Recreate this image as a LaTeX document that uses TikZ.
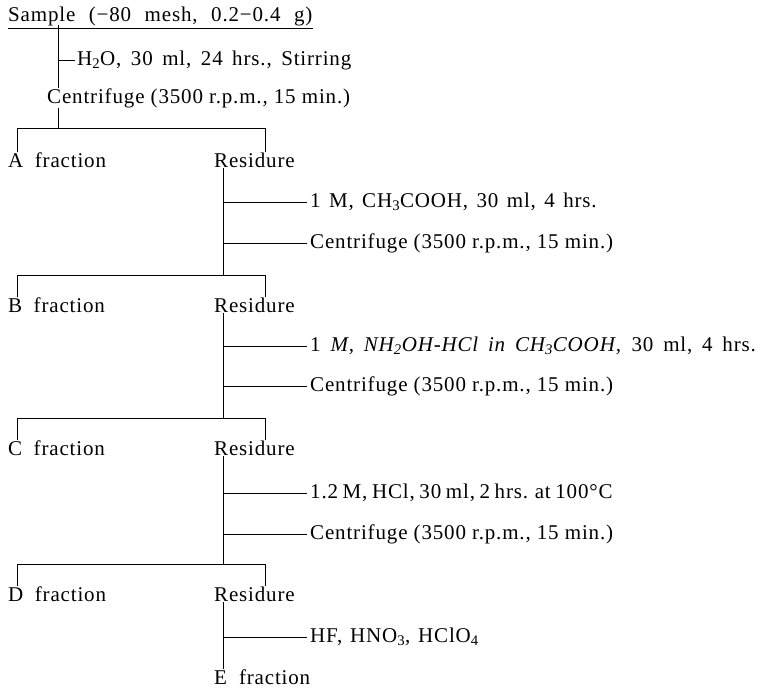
\documentclass[tikz,border=0pt]{standalone}
\usepackage{fontspec}
\setmainfont{Liberation Serif}[LetterSpace=4]
\usetikzlibrary{positioning,calc}

\newcommand\spinlabel{Centrifuge (3500 r.p.m., 15 min.)}

\begin{document}
\begin{tikzpicture}[x=1pt,y=1pt,
  lbl/.style={anchor=west, inner sep=0pt, font=\fontsize{21}{24}\selectfont},
  gap/.style={execute at begin node={\spaceskip=#1\relax}},
  wire/.style={line width=0.8pt}]
\useasboundingbox (0,0) rectangle (767,-691);

% sample, water extraction
\node[lbl,gap=13.5pt] (sample) at (8,-16) {Sample (−80 mesh, 0.2−0.4 g)};
\draw[wire] ([yshift=-3pt]sample.south west) -- ([yshift=-3pt]sample.south east);
\coordinate (top) at (58,-25);
\node[lbl,gap=9.5pt] (water) at (77,-60) {H\textsubscript{2}O, 30 ml, 24 hrs., Stirring};
\node[lbl] (spin0) at (47,-98) {\spinlabel};
\draw[wire] (top) -- (spin0.north -| top);
\draw[wire] (water.west -| top) -- ([xshift=-2pt]water.west);

% fractions, residues and the splits above them
\foreach \f/\y/\b in {A/-160/-128, B/-305/-275, C/-448/-418, D/-594/-564}{
  \node[lbl,gap=11.5pt] (frac\f) at (8,\y) {\f\ fraction};
  \node[lbl] (res\f) at (214,\y) {Residure};
  \coordinate (lv\f) at (0,\b);
  \coordinate (dropL\f) at ([xshift=9pt]frac\f.north west);
  \coordinate (dropR\f) at ([xshift=51pt]res\f.north west);
  \coordinate (stem\f) at ([xshift=9pt]res\f.south west);
  \draw[wire] (dropL\f) -- (dropL\f |- lv\f) -- (dropR\f |- lv\f) -- (dropR\f);
}
\node[lbl,gap=12pt] (fracE) at (214,-677) {E fraction};
\draw[wire] (spin0.south -| top) -- (top |- lvA);

% trunks down from each residue
\draw[wire] (stemA) -- (stemA |- lvB);
\draw[wire] (stemB) -- (stemB |- lvC);
\draw[wire] (stemC) -- (stemC |- lvD);
\draw[wire] (stemD) -- ([xshift=9pt]fracE.north west);

% reagents
\foreach \n/\s/\y/\g/\t in {
  rA1/A/-202/8.4pt/{1 M, CH\textsubscript{3}COOH, 30 ml, 4 hrs.},
  rA2/A/-243/0pt/{\spinlabel},
  rB1/B/-346/9.8pt/{1 \textit{M, NH\textsubscript{2}OH-HCl in CH\textsubscript{3}COOH,} 30 ml, 4 hrs.},
  rB2/B/-386/0pt/{\spinlabel},
  rC1/C/-493/4.6pt/{1.2 M, HCl, 30 ml, 2 hrs. at 100°C},
  rC2/C/-534/0pt/{\spinlabel},
  rD1/D/-637/7.8pt/{HF, HNO\textsubscript{3}, HClO\textsubscript{4}}}{
  \node[lbl,gap=\g] (\n) at (310,\y) {\t};
  \draw[wire] (\n.west -| stem\s) -- ([xshift=-3pt]\n.west);
}
\end{tikzpicture}
\end{document}
